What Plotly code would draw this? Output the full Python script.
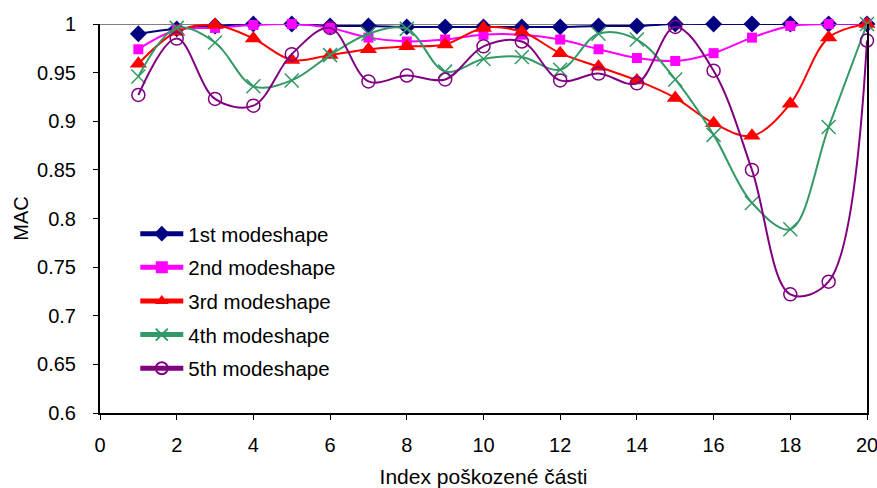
import plotly.graph_objects as go

x_index = list(range(1, 21))

mode1 = [0.990, 0.995, 0.998, 1.000, 1.000, 0.998, 0.998, 0.997, 0.997, 0.997,
         0.997, 0.997, 0.998, 0.998, 1.000, 1.000, 1.000, 1.000, 1.000, 1.000]
mode2 = [0.974, 0.994, 0.996, 0.999, 1.000, 0.996, 0.986, 0.982, 0.984, 0.989,
         0.989, 0.984, 0.974, 0.965, 0.962, 0.970, 0.986, 0.998, 1.000, 1.000]
mode3 = [0.959, 0.992, 0.999, 0.985, 0.963, 0.968, 0.974, 0.977, 0.979, 0.996,
         0.992, 0.970, 0.956, 0.942, 0.924, 0.898, 0.885, 0.918, 0.986, 1.000]
mode4 = [0.946, 0.996, 0.981, 0.936, 0.942, 0.968, 0.990, 0.995, 0.951, 0.964,
         0.966, 0.953, 0.990, 0.984, 0.943, 0.886, 0.816, 0.789, 0.894, 1.000]
mode5 = [0.927, 0.985, 0.923, 0.916, 0.969, 0.996, 0.941, 0.947, 0.943, 0.977,
         0.982, 0.942, 0.949, 0.939, 0.997, 0.952, 0.850, 0.722, 0.735, 0.983]

names = ["1st modeshape", "2nd modeshape", "3rd modeshape", "4th modeshape", "5th modeshape"]
colors = ["#000080", "#FF00FF", "#FF0000", "#339966", "#800080"]
symbols = ["diamond", "square", "triangle-up", "x-thin-open", "circle-open"]
sizes = [13, 10, 15, 14, 13]
series = [mode1, mode2, mode3, mode4, mode5]

fig = go.Figure()
for i, (nm, col, sym, sz, ys) in enumerate(zip(names, colors, symbols, sizes, series)):
    marker = dict(symbol=sym, size=sz, color=col)
    if sym in ("x-thin-open", "circle-open"):
        marker["line"] = dict(color=col, width=1.5)
    fig.add_trace(go.Scatter(
        x=x_index, y=ys, name=nm, mode="lines+markers", legendgroup=f"g{i}",
        line=dict(color=col, width=2, shape="spline", smoothing=1.0),
        marker=marker, cliponaxis=False,
    ))

fig.add_shape(type="line", xref="paper", yref="y", x0=0, x1=1, y0=1, y1=1,
              line=dict(color="#808080", width=2), layer="below")

font = "Liberation Sans, Arial, sans-serif"
fig.update_layout(
    width=877, height=488,
    margin=dict(l=100, r=10, t=24, b=75),
    paper_bgcolor="white", plot_bgcolor="white",
    font=dict(family=font, size=20, color="black"),
    showlegend=True,
    legend=dict(x=0.046, y=0.512, xanchor="left", yanchor="top",
                bgcolor="rgba(0,0,0,0)", font=dict(size=20.5),
                tracegroupgap=4, itemsizing="constant", itemwidth=43),
    xaxis=dict(range=[0, 20], dtick=2, tick0=0, showgrid=False, zeroline=False,
               showline=True, linecolor="black", linewidth=2, automargin=False,
               ticks="outside", ticklen=5, tickcolor="black", ticklabelstandoff=8,
               ticklabeloverflow="allow",
               title=dict(text="Index poškozené části", standoff=17, font=dict(size=21)),
               tickfont=dict(size=20)),
    yaxis=dict(range=[0.6, 1.0], dtick=0.05, showgrid=False, zeroline=False,
               showline=True, linecolor="black", linewidth=2, mirror=True, automargin=False,
               ticks="outside", ticklen=5, tickcolor="black", ticklabelstandoff=13,
               title=dict(text="MAC", standoff=3, font=dict(size=20)),
               tickfont=dict(size=20)),
)

fig.write_html("out.html", config={"displayModeBar": False},
               post_script="document.body.style.margin='0';document.body.style.overflow='hidden';")
